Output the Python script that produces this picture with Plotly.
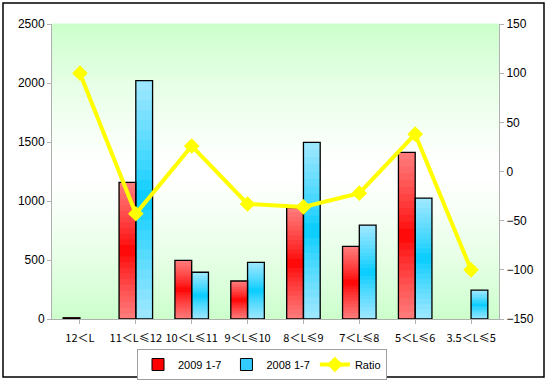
import plotly.graph_objects as go

categories = ["12＜L", "11＜L≤12", "10＜L≤11", "9＜L≤10", "8＜L≤9", "7＜L≤8", "5＜L≤6", "3.5＜L≤5"]
sales_2009 = [10, 1158, 497, 322, 945, 616, 1412, None]
sales_2008 = [None, 2020, 396, 480, 1497, 796, 1025, 245]
ratio = [100, -43, 26, -33, -36, -22, 38, -100]

W, H = 548, 381
ML, MR, MT, MB = 52, 49, 24, 62
PW, PH = W - ML - MR, H - MT - MB

def mix(c1, c2, t):
    return "rgb(%d,%d,%d)" % tuple(round(a + (b - a) * t) for a, b in zip(c1, c2))

def scale(vals, f):
    return [None if v is None else v * f for v in vals]

fig = go.Figure()
xs = list(range(len(categories)))
BW = 0.3
N = 24

series = [
    ("2009 1-7", sales_2009, -BW, (255, 0, 0), (255, 125, 125), "#FF0000"),
    ("2008 1-7", sales_2008, 0.0, (0, 204, 255), (160, 232, 255), "#33CCFF"),
]

# legend-only entries
for name, vals, off, cc, ce, lc in series:
    fig.add_trace(go.Bar(x=[None], y=[None], name=name, marker=dict(color=lc, line=dict(color="black", width=1)),
                         showlegend=True))

# gradient pieces (slightly overlapping to avoid seams)
for name, vals, off, cc, ce, lc in series:
    for k in range(N):
        t = (k + 0.5) / N
        d = abs(t - 0.5) * 2
        col = mix(cc, ce, d ** 0.8)
        ext = 1.0 if k == N - 1 else 1.6
        fig.add_trace(go.Bar(x=xs, y=scale(vals, ext / N), base=scale(vals, k / N),
                             width=BW, offset=off, marker=dict(color=col, line=dict(width=0)),
                             showlegend=False, hoverinfo="skip"))
# outlines
for name, vals, off, cc, ce, lc in series:
    fig.add_trace(go.Bar(x=xs, y=vals, width=BW, offset=off,
                         marker=dict(color="rgba(0,0,0,0)", line=dict(color="black", width=1.3)),
                         showlegend=False, name=name))

fig.add_trace(go.Scatter(x=xs, y=ratio, yaxis="y2", name="Ratio", mode="lines+markers",
                         line=dict(color="#FFFF00", width=4),
                         marker=dict(symbol="diamond", size=12, color="#FFFF00")))

# background gradient stripes
shapes = []
S = 60
for i in range(S):
    t = (i + 0.5) / S
    d = abs(t - 0.5) * 2
    col = mix((255, 255, 255), (204, 255, 204), min(1, d ** 1.3))
    shapes.append(dict(type="rect", xref="paper", yref="paper", x0=0, x1=1, y0=i / S, y1=(i + 1) / S + 0.002,
                       fillcolor=col, line=dict(width=0), layer="below"))
# outer border
shapes.append(dict(type="rect", xref="paper", yref="paper",
                   x0=(3 - ML) / PW, x1=(544 - ML) / PW, y0=(H - MB - 377) / PH, y1=(H - MB - 3) / PH,
                   line=dict(color="black", width=1.5), fillcolor="rgba(0,0,0,0)"))

num_font = dict(family="Liberation Sans, Arial", size=12, color="black")
fig.update_layout(
    width=W, height=H,
    margin=dict(l=ML, r=MR, t=MT, b=MB, autoexpand=False),
    barmode="overlay",
    paper_bgcolor="white", plot_bgcolor="rgba(0,0,0,0)",
    shapes=shapes,
    xaxis=dict(tickmode="array", tickvals=xs, ticktext=categories, range=[-0.5, len(categories) - 0.5],
               showgrid=False, zeroline=False, showline=True, linecolor="#B0B0B0", linewidth=1,
               ticks="outside", ticklen=4, tickcolor="#B0B0B0", ticklabelstandoff=5,
               tickfont=dict(family="Noto Sans CJK SC", size=11, color="black")),
    yaxis=dict(range=[0, 2500], dtick=500, showgrid=False, zeroline=False, showline=True,
               linecolor="#B0B0B0", ticks="outside", ticklen=4, tickcolor="#B0B0B0", tickfont=num_font),
    yaxis2=dict(range=[-150, 150], dtick=50, overlaying="y", side="right", showgrid=False, zeroline=False,
                showline=True, linecolor="#B0B0B0", ticks="outside", ticklen=4, tickcolor="#B0B0B0",
                tickfont=num_font),
    legend=dict(orientation="h", x=(262 - ML) / PW, xanchor="center", y=(H - MB - 349) / PH, yanchor="top",
                bordercolor="#A0A0A0", borderwidth=1, bgcolor="white", itemwidth=30,
                font=dict(family="Liberation Sans, Arial", size=11, color="black"), traceorder="normal"),
    showlegend=True,
)

fig.write_html("out.html", config={"displayModeBar": False},
               post_script="document.body.style.margin='0';document.body.style.overflow='hidden';")
